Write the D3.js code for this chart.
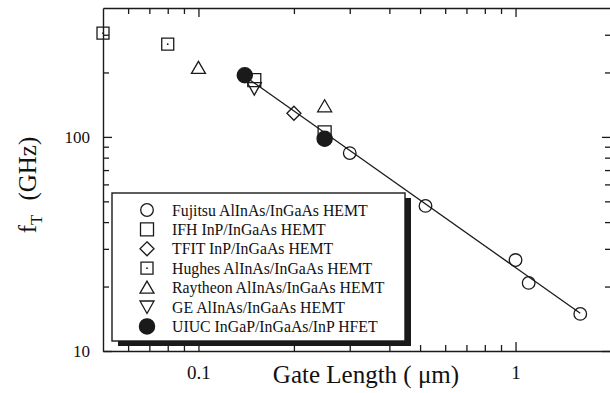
<!DOCTYPE html>
<html>
<head>
<meta charset="utf-8">
<script src="https://cdn.jsdelivr.net/npm/d3@7"></script>
<style>
  body { margin: 0; background: #fff; }
  text { font-family: "Liberation Serif", "Times New Roman", serif; fill: #111; }
</style>
</head>
<body>
<div id="chart"></div>
<script>
// gate length (um) and fT (GHz)
var fujitsuL = [0.3, 0.52, 1.0, 1.1, 1.6];
var fujitsuF = [84, 47.6, 26.6, 20.8, 14.9];
var ifhL = [0.15, 0.25];
var ifhF = [184, 105];
var tfitL = [0.2];
var tfitF = [129];
var hughesL = [0.05, 0.08];
var hughesF = [305, 271];
var raytheonL = [0.1, 0.25];
var raytheonF = [210, 139];
var geL = [0.15];
var geF = [168];
var uiucL = [0.14, 0.25];
var uiucF = [194, 98];

// straight fit line through the points
var fitL = [0.145, 1.6];
var fitF = [185, 15];

var legendNames = [
  "Fujitsu AlInAs/InGaAs HEMT",
  "IFH InP/InGaAs HEMT",
  "TFIT InP/InGaAs HEMT",
  "Hughes AlInAs/InGaAs HEMT",
  "Raytheon AlInAs/InGaAs HEMT",
  "GE AlInAs/InGaAs HEMT",
  "UIUC InGaP/InGaAs/InP HFET"
];

var xMajor = [0.1, 1];
var xMinor = [0.06, 0.07, 0.08, 0.09, 0.2, 0.3, 0.4, 0.5, 0.6, 0.7, 0.8, 0.9];
var yMajor = [10, 100];
var yMinor = [20, 30, 40, 50, 60, 70, 80, 90, 200, 300];

var series = [
  {L: fujitsuL, F: fujitsuF, shape: "circle"},
  {L: ifhL, F: ifhF, shape: "square"},
  {L: tfitL, F: tfitF, shape: "diamond"},
  {L: hughesL, F: hughesF, shape: "hughes"},
  {L: raytheonL, F: raytheonF, shape: "up"},
  {L: geL, F: geF, shape: "down"},
  {L: uiucL, F: uiucF, shape: "dot"}
];

var W = 610, H = 393;
var mLeft = 103, mRight = 611, mTop = 8, mBottom = 351;
var ink = "#1a1a1a";

var svg = d3.select("#chart")
  .append("svg")
    .attr("width", W)
    .attr("height", H);

var x = d3.scaleLog().domain([0.05, 2]).range([mLeft, mRight]);
var y = d3.scaleLog().domain([10, 400]).range([mBottom, mTop]);

// marker paths, centred on 0,0
function shapePath(shape) {
  switch (shape) {
    case "circle": return d3.symbol(d3.symbolCircle, Math.PI * 6.3 * 6.3)();
    case "dot": return d3.symbol(d3.symbolCircle, Math.PI * 7.6 * 7.6)();
    case "square": return "M-6.5,-6.5h13v13h-13Z";
    case "hughes": return "M-6,-6h12v12h-12Z";
    case "diamond": return "M0,-7L7,0L0,7L-7,0Z";
    case "up": return "M0,-6.5L7,5.5L-7,5.5Z";
    case "down": return "M0,6.5L7,-6L-7,-6Z";
  }
}

function drawMarker(g, shape) {
  g.append("path")
    .attr("d", shapePath(shape))
    .attr("fill", shape == "dot" ? ink : "none")
    .attr("stroke", ink)
    .attr("stroke-width", 1.3);
  if (shape == "hughes") {
    g.append("circle").attr("r", 0.9).attr("fill", ink);
  }
}

// axes: minor ticks first, then major ticks with labels, all pointing inward
function axisPair(gen, scale, minor, major, transform, pad, fmt, fs) {
  svg.append("g")
    .attr("transform", transform)
    .call(gen(scale).tickValues(minor).tickSizeInner(-6).tickSizeOuter(0).tickFormat(""))
    .call(function(g) { g.select(".domain").attr("stroke", ink).attr("stroke-width", 1.4); });
  svg.append("g")
    .attr("transform", transform)
    .call(gen(scale).tickValues(major).tickSizeInner(-9).tickSizeOuter(0).tickPadding(pad).tickFormat(fmt))
    .call(function(g) {
      g.select(".domain").remove();
      g.attr("font-family", null).attr("font-size", null);
      g.selectAll("text").style("font-size", fs);
    });
}

axisPair(d3.axisBottom, x, xMinor, xMajor, "translate(0," + mBottom + ")", 15, d3.format(""), "19px");
axisPair(d3.axisTop, x, xMinor, xMajor, "translate(0," + mTop + ")", 0, "", "0px");
axisPair(d3.axisLeft, y, yMinor, yMajor, "translate(" + mLeft + ",0)", 13, d3.format(""), "17px");
axisPair(d3.axisRight, y, yMinor, yMajor, "translate(" + mRight + ",0)", 0, "", "0px");

svg.selectAll(".tick line").attr("stroke", ink).attr("stroke-width", 1.3);

// fit line
var line = d3.line()
  .x(function(d) { return x(d[0]); })
  .y(function(d) { return y(d[1]); });

svg.append("path")
  .datum(d3.zip(fitL, fitF))
  .attr("d", line)
  .attr("fill", "none")
  .attr("stroke", ink)
  .attr("stroke-width", 1.3);

// data markers
series.forEach(function(s) {
  d3.zip(s.L, s.F).forEach(function(p) {
    var g = svg.append("g")
      .attr("transform", "translate(" + x(p[0]) + "," + y(p[1]) + ")");
    drawMarker(g, s.shape);
  });
});

// legend box with drop shadow
var lx = 112, ly = 193, lw = 293, lh = 148;
svg.append("rect")
  .attr("x", lx + 6).attr("y", ly + 5)
  .attr("width", lw).attr("height", lh)
  .attr("fill", ink);
svg.append("rect")
  .attr("x", lx).attr("y", ly)
  .attr("width", lw).attr("height", lh)
  .attr("fill", "#fff")
  .attr("stroke", ink)
  .attr("stroke-width", 1.4);

legendNames.forEach(function(name, i) {
  var ry = ly + 17 + i * 19.4;
  var g = svg.append("g").attr("transform", "translate(" + (lx + 35) + "," + ry + ")");
  drawMarker(g, series[i].shape);
  svg.append("text")
    .attr("x", lx + 60)
    .attr("y", ry)
    .attr("dy", "0.35em")
    .style("font-size", "15.8px")
    .text(name);
});

// axis titles
svg.append("text")
  .attr("x", 366)
  .attr("y", 383)
  .attr("text-anchor", "middle")
  .style("font-size", "25px")
  .text("Gate Length ( \u03bcm)");

var yt = svg.append("text")
  .attr("transform", "translate(36,185) rotate(-90)")
  .attr("text-anchor", "middle")
  .style("font-size", "25px");
yt.append("tspan").text("f");
yt.append("tspan").attr("dy", 6).style("font-size", "17px").text("T");
yt.append("tspan").attr("dy", -6).attr("dx", 14).text("(GHz)");
</script>
</body>
</html>
